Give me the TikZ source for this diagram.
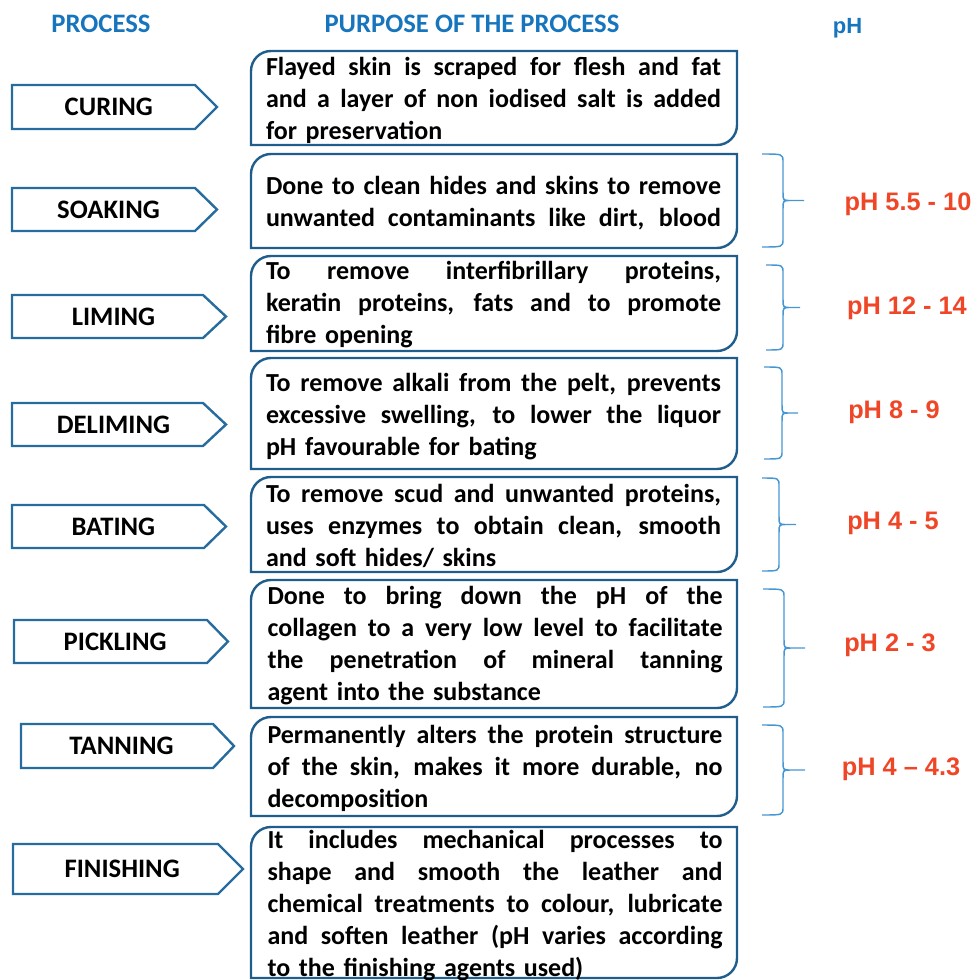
\documentclass[tikz,border=0pt]{standalone}
\usepackage{fontspec}
\setmainfont{Carlito}
\newfontfamily\arialfont{Liberation Sans}
\usetikzlibrary{calc}
\definecolor{hdrblue}{RGB}{23,117,189}
\definecolor{boxblue}{RGB}{31,94,140}
\definecolor{arrblue}{RGB}{38,108,158}
\definecolor{brblue}{RGB}{70,150,210}
\definecolor{phred}{RGB}{240,70,40}
\newcommand\jl[1]{{\spaceskip=0pt\xspaceskip=0pt\makebox[341.25pt][s]{#1}}}
\newcommand\fs{\rule{0pt}{16pt}}
\newcommand\diagbox[1]{\draw[boxline] ([yshift=-15pt]#1.north west) arc[start angle=180,end angle=90,radius=15pt] -- (#1.north east) -- ([yshift=15pt]#1.south east) arc[start angle=0,end angle=-90,radius=15pt] -- (#1.south west) -- cycle;}
\newcommand\procarrow[2]{\draw[arrline] (#1.north west) -- (#1.north east) -- ($(#1.east)+(#2,0)$) -- (#1.south east) -- (#1.south west) -- cycle;}
\newcommand\phbrace[5]{%
 \pgfmathsetmacro\brmid{-(#4+#5)/2}%
 \draw[brline] (#1,-#4) .. controls (#2,-#4) .. (#2,-#4-8) -- (#2,\brmid+8) .. controls (#2,\brmid) .. (#2+8,\brmid) -- (#3,\brmid)
   (#2+8,\brmid) .. controls (#2,\brmid) .. (#2,\brmid-8) -- (#2,-#5+8) .. controls (#2,-#5) .. (#1,-#5);}
\begin{document}
\begin{tikzpicture}[x=0.75pt,y=0.75pt,
  hdr/.style={anchor=base,inner sep=0,text=hdrblue,font=\fontsize{20pt}{24pt}\selectfont\bfseries},
  hdrph/.style={anchor=base,inner sep=0,text=hdrblue,font=\arialfont\fontsize{16.5pt}{20pt}\selectfont\bfseries},
  proc/.style={rectangle,inner sep=0,outer sep=0,font=\fontsize{20pt}{24pt}\selectfont\bfseries},
  arrline/.style={draw=arrblue,line width=1.8pt,line join=miter},
  bx/.style={rectangle,inner sep=0,outer sep=0},
  boxline/.style={draw=boxblue,line width=1.8pt},
  txt/.style={anchor=north,inner sep=0,text width=341.25pt,align=left,font=\fontsize{19.5pt}{24pt}\selectfont\bfseries},
  brline/.style={draw=brblue,line width=1.1pt},
  ph/.style={anchor=base,inner sep=0,text=phred,font=\arialfont\fontsize{19pt}{22pt}\selectfont\bfseries}]
\useasboundingbox (0,0) rectangle (977,-980);

% headers
\node[hdr] (h1) at (101,-33) {PROCESS};
\node[hdr] (h2) at (472,-33) {PURPOSE OF THE PROCESS};
\node[hdrph] (h3) at (847.5,-34) {pH};

% process arrows
\node[proc,minimum width=183*0.75pt,minimum height=44*0.75pt] (a1) at (103.5,-107) {\hspace*{8pt}CURING};
\procarrow{a1}{22}
\node[proc,minimum width=183*0.75pt,minimum height=43*0.75pt] (a2) at (103.5,-209.5) {\hspace*{7.5pt}SOAKING};
\procarrow{a2}{22}
\node[proc,minimum width=191*0.75pt,minimum height=43*0.75pt] (a3) at (107.5,-316.5) {\hspace*{9pt}LIMING};
\procarrow{a3}{23}
\node[proc,minimum width=191*0.75pt,minimum height=43*0.75pt] (a4) at (107.5,-424.5) {\hspace*{9pt}DELIMING};
\procarrow{a4}{23}
\node[proc,minimum width=192*0.75pt,minimum height=43*0.75pt] (a5) at (108,-526.5) {\hspace*{8pt}BATING};
\procarrow{a5}{22}
\node[proc,minimum width=193*0.75pt,minimum height=43*0.75pt] (a6) at (110.5,-641.5) {\hspace*{7pt}PICKLING};
\procarrow{a6}{21}
\node[proc,minimum width=192*0.75pt,minimum height=44*0.75pt] (a7) at (117,-746) {\hspace*{6.75pt}TANNING};
\procarrow{a7}{21}
\node[proc,minimum width=205*0.75pt,minimum height=50*0.75pt] (a8) at (115.5,-869) {\hspace*{10pt}FINISHING};
\procarrow{a8}{25}

% purpose boxes
\node[bx,minimum width=486*0.75pt,minimum height=94*0.75pt] (b1) at (494,-98) {};
\diagbox{b1}
\node[bx,minimum width=486*0.75pt,minimum height=94*0.75pt] (b2) at (494,-201) {};
\diagbox{b2}
\node[bx,minimum width=486*0.75pt,minimum height=95*0.75pt] (b3) at (494,-303.5) {};
\diagbox{b3}
\node[bx,minimum width=486*0.75pt,minimum height=111*0.75pt] (b4) at (494,-413.5) {};
\diagbox{b4}
\node[bx,minimum width=486*0.75pt,minimum height=95*0.75pt] (b5) at (494,-524.5) {};
\diagbox{b5}
\node[bx,minimum width=486*0.75pt,minimum height=128*0.75pt] (b6) at (494,-644) {};
\diagbox{b6}
\node[bx,minimum width=486*0.75pt,minimum height=99*0.75pt] (b7) at (494,-766.5) {};
\diagbox{b7}
\node[bx,minimum width=486*0.75pt,minimum height=151*0.75pt] (b8) at (494,-902.5) {};
\diagbox{b8}

% purpose texts
\node[txt] (p1) at (493.5,-53.7) {\jl{\fs Flayed skin is scraped for flesh and fat}\\\jl{and a layer of non iodised salt is added}\\for preservation};
\node[txt] (p2) at (493.5,-172.7) {\jl{\fs Done to clean hides and skins to remove}\\\jl{unwanted contaminants like dirt, blood}};
\node[txt] (p3) at (493.5,-257.7) {\jl{\fs To remove interfibrillary proteins,}\\\jl{keratin proteins, fats and to promote}\\fibre opening};
\node[txt] (p4) at (493.5,-369.7) {\jl{\fs To remove alkali from the pelt, prevents}\\\jl{excessive swelling, to lower the liquor}\\pH favourable for bating};
\node[txt] (p5) at (493.5,-480.7) {\jl{\fs To remove scud and unwanted proteins,}\\\jl{uses enzymes to obtain clean, smooth}\\and soft hides/ skins};
\node[txt] (p6) at (495,-582.7) {\jl{\fs Done to bring down the pH of the}\\\jl{collagen to a very low level to facilitate}\\\jl{the penetration of mineral tanning}\\agent into the substance};
\node[txt] (p7) at (495,-721.7) {\jl{\fs Permanently alters the protein structure}\\\jl{of the skin, makes it more durable, no}\\decomposition};
\node[txt] (p8) at (495,-826.7) {\jl{\fs It includes mechanical processes to}\\\jl{shape and smooth the leather and}\\\jl{chemical treatments to colour, lubricate}\\\jl{and soften leather (pH varies according}\\to the finishing agents used)};

% braces
\phbrace{762}{783}{804}{154}{247}
\phbrace{766}{783}{800}{265}{350}
\phbrace{764}{782}{798}{367}{459}
\phbrace{762}{779}{796}{478}{571}
\phbrace{763}{784}{805}{589}{707}
\phbrace{762}{783}{805}{725}{815}

% pH labels
\node[ph] (q2) at (908,-211) {pH 5.5 - 10};
\node[ph] (q3) at (907,-315) {pH 12 - 14};
\node[ph] (q4) at (894,-418) {pH 8 - 9};
\node[ph] (q5) at (893,-529) {pH 4 - 5};
\node[ph] (q6) at (890,-651) {pH 2 - 3};
\node[ph] (q7) at (901,-775) {pH 4 – 4.3};
\end{tikzpicture}
\end{document}
